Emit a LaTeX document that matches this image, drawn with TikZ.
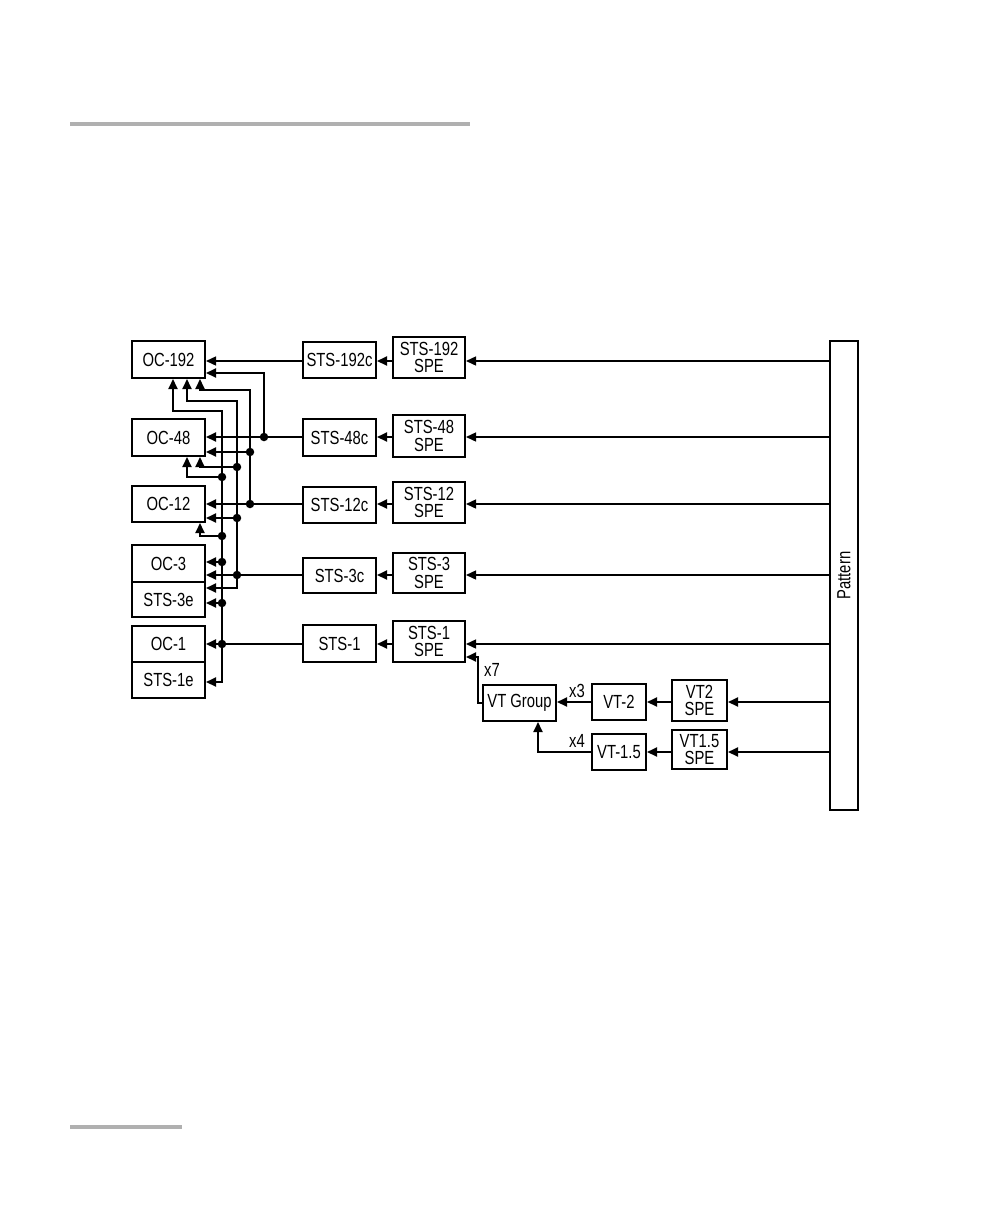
\documentclass[tikz,border=0pt]{standalone}
\usepackage{fontspec}
\setmainfont{Liberation Sans}[FakeStretch=0.78]
\usetikzlibrary{arrows.meta}
\definecolor{rulegray}{RGB}{176,176,176}
\begin{document}
\begin{tikzpicture}[x=1pt,y=-1pt,
  box/.style={draw, line width=2pt, inner sep=0pt, align=center, font=\fontsize{19}{17.5}\selectfont},
  lb/.style={box, minimum width=73pt, minimum height=36pt},
  spe/.style={box, minimum width=72pt, minimum height=41pt},
  arr/.style={line width=2pt, -{Triangle[length=10pt,width=9pt]}},
  tarr/.style={line width=1.4pt, -{Triangle[length=10pt,width=9pt]}},
  darr/.style={line width=2pt, {Triangle[length=10pt,width=9pt]}-{Triangle[length=10pt,width=9pt]}},
  lbl/.style={inner sep=0pt, font=\fontsize{19}{17.5}\selectfont},
  dot/.style={circle, fill, inner sep=0pt, minimum size=8.5pt}]
\useasboundingbox (0,0) rectangle (1008,1224);

% gray rules
\draw[line width=4pt, rulegray] (70,124) -- (470,124);
\draw[line width=3.5pt, rulegray] (70,1127) -- (182,1127);

% reference coordinates
\coordinate (y192) at (0,361);
\coordinate (y192b) at (0,373);
\coordinate (y48) at (0,437);
\coordinate (y48b) at (0,452);
\coordinate (y12) at (0,504);
\coordinate (y12b) at (0,518);
\coordinate (y3) at (0,575);
\coordinate (y3a) at (0,562);
\coordinate (y3e1) at (0,588);
\coordinate (y3e2) at (0,603);
\coordinate (y1) at (0,644);
\coordinate (y1e) at (0,682);
\coordinate (h1) at (0,411);
\coordinate (h2) at (0,401);
\coordinate (h3) at (0,390);
\coordinate (g1) at (0,477);
\coordinate (g2) at (0,467);
\coordinate (g3) at (0,536);
\coordinate (yvt2) at (0,702);
\coordinate (yvt15) at (0,752);
\coordinate (ys1b) at (0,657);
\coordinate (b1) at (222,0);
\coordinate (b2) at (237,0);
\coordinate (b3) at (250,0);
\coordinate (b4) at (264,0);
\coordinate (p1) at (173,0);
\coordinate (p2) at (187,0);
\coordinate (p3) at (200,0);
\coordinate (xs) at (478,0);
\coordinate (xv) at (538,0);

% left column
\node[lb, minimum height=37pt] (oc192) at (168.5,359.5) {OC-192};
\node[lb, minimum height=37pt] (oc48) at (168.5,437.5) {OC-48};
\node[lb] (oc12) at (168.5,504) {OC-12};
\node[lb, minimum height=37pt] (oc3) at (168.5,563.5) {OC-3};
\node[lb, minimum height=35pt] (sts3e) at (168.5,599.5) {STS-3e};
\node[lb] (oc1) at (168.5,644) {OC-1};
\node[lb] (sts1e) at (168.5,680) {STS-1e};

% middle column
\node[lb] (s192c) at (339.5,360) {STS-192c};
\node[lb, minimum height=37pt] (s48c) at (339.5,437.5) {STS-48c};
\node[lb] (s12c) at (339.5,505) {STS-12c};
\node[lb, minimum height=35pt] (s3c) at (339.5,575.5) {STS-3c};
\node[lb, minimum height=37pt] (s1) at (339.5,643.5) {STS-1};

% SPE column
\node[spe] (spe192) at (429,357.5) {STS-192\\SPE};
\node[spe, minimum height=42pt] (spe48) at (429,436) {STS-48\\SPE};
\node[spe] (spe12) at (429,502.5) {STS-12\\SPE};
\node[spe, minimum height=40pt] (spe3) at (429,573) {STS-3\\SPE};
\node[spe] (spe1) at (429,641.5) {STS-1\\SPE};

% VT section
\node[lb] (vtg) at (519.5,703) {VT Group};
\node[box, minimum width=54pt, minimum height=36pt] (vt2) at (619,702) {VT-2};
\node[box, minimum width=55pt, minimum height=41pt] (vt2spe) at (699.5,700.5) {VT2\\SPE};
\node[box, minimum width=54pt, minimum height=36pt] (vt15) at (619,752) {VT-1.5};
\node[box, minimum width=55pt, minimum height=39pt] (vt15spe) at (699.5,749.5) {VT1.5\\SPE};

% Pattern
\node[box, line width=1.6pt, minimum width=28pt, minimum height=469pt] (pat) at (844,575.5) {};
\node[lbl, rotate=90] (pattxt) at (pat.center) {Pattern};

% labels
\node[lbl] (x7) at (492,670) {x7};
\node[lbl] (x3) at (577,691) {x3};
\node[lbl] (x4) at (577,741) {x4};

% Pattern -> SPE
\draw[tarr] (pat.west |- y192) -- (spe192.east |- y192);
\draw[tarr] (pat.west |- y48) -- (spe48.east |- y48);
\draw[tarr] (pat.west |- y12) -- (spe12.east |- y12);
\draw[tarr] (pat.west |- y3) -- (spe3.east |- y3);
\draw[tarr] (pat.west |- y1) -- (spe1.east |- y1);
\draw[arr] (pat.west |- yvt2) -- (vt2spe.east |- yvt2);
\draw[arr] (pat.west |- yvt15) -- (vt15spe.east |- yvt15);

% SPE -> container
\draw[arr] (spe192.west |- y192) -- (s192c.east |- y192);
\draw[arr] (spe48.west |- y48) -- (s48c.east |- y48);
\draw[arr] (spe12.west |- y12) -- (s12c.east |- y12);
\draw[arr] (spe3.west |- y3) -- (s3c.east |- y3);
\draw[arr] (spe1.west |- y1) -- (s1.east |- y1);

% container -> OC
\draw[tarr] (s192c.west |- y192) -- (oc192.east |- y192);
\draw[arr] (s48c.west |- y48) -- (oc48.east |- y48);
\draw[arr] (s12c.west |- y12) -- (oc12.east |- y12);
\draw[arr] (s3c.west |- y3) -- (oc3.east |- y3);
\draw[arr] (s1.west |- y1) -- (oc1.east |- y1);

% junction dots
\node[dot] (d48) at (b4 |- y48) {};
\node[dot] (d48b) at (b3 |- y48b) {};
\node[dot] (d12) at (b3 |- y12) {};
\node[dot] (dg2) at (b2 |- g2) {};
\node[dot] (d12b) at (b2 |- y12b) {};
\node[dot] (d3) at (b2 |- y3) {};
\node[dot] (dg1) at (b1 |- g1) {};
\node[dot] (dg3) at (b1 |- g3) {};
\node[dot] (d3a) at (b1 |- y3a) {};
\node[dot] (d3e2) at (b1 |- y3e2) {};
\node[dot] (d1) at (b1 |- y1) {};

% bus routes
\draw[arr] (d48.center) |- (oc192.east |- y192b);
\draw[arr] (d12.center) |- (p3 |- h3) -- (p3 |- oc192.south);
\draw[darr] (p2 |- oc192.south) -- (p2 |- h2) -| (b2 |- y3e1) -- (sts3e.east |- y3e1);
\draw[darr] (p1 |- oc192.south) -- (p1 |- h1) -| (b1 |- y1e) -- (sts1e.east |- y1e);
\draw[arr] (d48b.center) -- (oc48.east |- y48b);
\draw[arr] (dg1.center) -| (p2 |- oc48.south);
\draw[arr] (dg2.center) -| (p3 |- oc48.south);
\draw[arr] (d12b.center) -- (oc12.east |- y12b);
\draw[arr] (dg3.center) -| (p3 |- oc12.south);
\draw[arr] (d3a.center) -- (oc3.east |- y3a);
\draw[arr] (d3e2.center) -- (sts3e.east |- y3e2);

% VT connections
\draw[arr] (vt2spe.west |- yvt2) -- (vt2.east |- yvt2);
\draw[arr] (vt2.west |- yvt2) -- (vtg.east |- yvt2);
\draw[arr] (vt15spe.west |- yvt15) -- (vt15.east |- yvt15);
\draw[arr] (vt15.west |- yvt15) -| (xv |- vtg.south);
\draw[arr] (vtg.west) -| (xs |- ys1b) -- (spe1.east |- ys1b);
\end{tikzpicture}
\end{document}
